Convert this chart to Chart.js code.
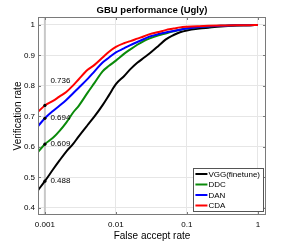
<!DOCTYPE html>
<html><head><meta charset="utf-8">
<script src="https://cdn.jsdelivr.net/npm/chart.js@4/dist/chart.umd.min.js"></script>
<style>html,body{margin:0;padding:0;background:#fff}#wrap{width:294px;height:242px}</style>
</head><body><div id="wrap"><canvas id="c" width="294" height="242"></canvas></div>
<script>
// ---- data ----
const far = [0.0008,0.001,0.0013,0.0016,0.002,0.0025,0.003,0.004,0.005,0.0065,0.008,0.01,0.013,0.016,0.02,0.025,0.03,0.04,0.05,0.065,0.08,0.1,0.15,0.2,0.3,0.5,0.7,1];
const vggFinetune = [0.458,0.488,0.526,0.555,0.585,0.610,0.635,0.672,0.700,0.737,0.770,0.806,0.832,0.855,0.876,0.893,0.907,0.932,0.952,0.967,0.976,0.982,0.988,0.991,0.995,0.998,0.999,1.0];
const ddc = [0.583,0.609,0.630,0.652,0.680,0.713,0.735,0.778,0.810,0.848,0.866,0.883,0.905,0.920,0.935,0.948,0.956,0.966,0.972,0.979,0.984,0.988,0.993,0.995,0.997,0.999,0.999,1.0];
const dan = [0.668,0.694,0.718,0.735,0.754,0.776,0.794,0.823,0.848,0.877,0.893,0.910,0.923,0.934,0.944,0.954,0.962,0.970,0.975,0.980,0.984,0.988,0.993,0.995,0.997,0.999,0.999,1.0];
const cda = [0.715,0.736,0.751,0.765,0.780,0.802,0.822,0.853,0.869,0.893,0.912,0.928,0.940,0.947,0.955,0.963,0.970,0.977,0.983,0.988,0.992,0.994,0.996,0.997,0.998,0.999,0.999,1.0];
const seriesNames = ['VGG(finetune)','DDC','DAN','CDA'];
const operatingFar = 0.001;
const operatingVr = [0.488, 0.609, 0.694, 0.736];
const operatingLabels = ['0.488','0.609','0.694','0.736'];
const xTickValues = [0.001, 0.01, 0.1, 1];
const xTickLabels = ['0.001','0.01','0.1','1'];
const yTickValues = [0.4, 0.5, 0.6, 0.7, 0.8, 0.9, 1];
const yTickLabels = ['0.4','0.5','0.6','0.7','0.8','0.9','1'];

// ---- styles ----
const colors = ['#000000','#0a8a0a','#0000ff','#ff0000'];
const labelNudgePx = [0, 0, 0, -25];
const X_MIN = 0.0008, X_MAX = 1.3, Y_MIN = 0.377, Y_MAX = 1.026;
const FONT = "'Liberation Sans', Arial, sans-serif";
const TXT = '#000000';

const toPts = arr => arr.map((v, i) => ({x: far[i], y: v}));
const seriesData = [vggFinetune, ddc, dan, cda];

const datasets = [];
// reference vertical line at operating point
datasets.push({
  type: 'line', label: '_ref', data: [{x: operatingFar, y: Y_MIN}, {x: operatingFar, y: Y_MAX}],
  borderColor: '#c8c8c8', borderWidth: 2, pointRadius: 0, order: 10
});
seriesData.forEach((arr, i) => {
  datasets.push({
    type: 'line', label: seriesNames[i], data: toPts(arr),
    borderColor: colors[i], backgroundColor: colors[i], borderWidth: 2,
    pointRadius: 0, tension: 0.25, cubicInterpolationMode: 'monotone', order: 5 - i
  });
});
datasets.push({
  type: 'scatter', label: '_pts', data: operatingVr.map(v => ({x: operatingFar, y: v})),
  backgroundColor: '#000', borderColor: '#000', pointRadius: 1.6, borderWidth: 0, order: 0
});

const boxPlugin = {
  id: 'boxPlugin',
  afterDatasetsDraw(chart) {
    const {ctx, chartArea: a, scales: {x, y}} = chart;
    ctx.save();
    // axes box
    ctx.strokeStyle = '#7a7a7a';
    ctx.lineWidth = 1;
    ctx.strokeRect(a.left + 0.5, a.top + 0.5, a.right - a.left - 1, a.bottom - a.top - 1);
    // inner ticks
    const tl = 3;
    ctx.beginPath();
    yTickValues.forEach(v => {
      const py = Math.round(y.getPixelForValue(v)) + 0.5;
      ctx.moveTo(a.left, py); ctx.lineTo(a.left + tl, py);
      ctx.moveTo(a.right, py); ctx.lineTo(a.right - tl, py);
    });
    xTickValues.forEach(v => {
      const px = Math.round(x.getPixelForValue(v)) + 0.5;
      ctx.moveTo(px, a.bottom); ctx.lineTo(px, a.bottom - tl);
      ctx.moveTo(px, a.top); ctx.lineTo(px, a.top + tl);
    });
    ctx.stroke();
    // operating point labels
    ctx.fillStyle = TXT;
    ctx.font = "8px " + FONT;
    ctx.textBaseline = 'middle';
    ctx.textAlign = 'left';
    operatingVr.forEach((v, i) => {
      const px = x.getPixelForValue(operatingFar) + 5.5;
      const py = y.getPixelForValue(v) + labelNudgePx[i];
      ctx.fillText(operatingLabels[i], px, py);
    });
    // legend
    ctx.font = "8px " + FONT;
    let maxW = 0;
    seriesNames.forEach(n => { maxW = Math.max(maxW, ctx.measureText(n).width); });
    const rowH = 10.5, lineLen = 12;
    const bw = 2 + lineLen + 1 + maxW + 3;
    const bh = seriesNames.length * rowH + 1;
    const bx = a.right - 3 - bw, by = a.bottom - 4 - bh;
    ctx.fillStyle = '#fff';
    ctx.fillRect(bx, by, bw, bh);
    ctx.strokeStyle = '#555';
    ctx.lineWidth = 1;
    ctx.strokeRect(Math.round(bx) + 0.5, Math.round(by) + 0.5, Math.round(bw), Math.round(bh));
    seriesNames.forEach((n, i) => {
      const cy = by + 6 + i * rowH;
      ctx.strokeStyle = colors[i];
      ctx.lineWidth = 2;
      ctx.beginPath();
      ctx.moveTo(bx + 2, cy); ctx.lineTo(bx + 2 + lineLen, cy);
      ctx.stroke();
      ctx.fillStyle = TXT;
      ctx.fillText(n, bx + 2 + lineLen + 1, cy + 0.5);
    });
    ctx.restore();
  }
};

new Chart(document.getElementById('c'), {
  data: {datasets},
  options: {
    responsive: false, devicePixelRatio: 1, animation: false,
    layout: {padding: {left: 0, right: 28, top: 0, bottom: 0}},
    plugins: {
      legend: {display: false}, tooltip: {enabled: false},
      title: {display: true, fullSize: false, text: 'GBU performance (Ugly)', color: TXT,
        font: {family: FONT, size: 9.5, weight: 'bold'}, padding: {top: 5, bottom: 0.6}}
    },
    scales: {
      x: {
        type: 'logarithmic', min: X_MIN, max: X_MAX,
        afterBuildTicks: s => { s.ticks = xTickValues.map(v => ({value: v})); },
        afterFit: s => { s.height = 27; },
        ticks: {autoSkip: false, maxRotation: 0, color: TXT, padding: 5,
          font: {family: FONT, size: 8},
          callback: (v) => { const i = xTickValues.indexOf(v); return i >= 0 ? xTickLabels[i] : ''; }},
        grid: {color: '#e6e6e6', lineWidth: 1, drawTicks: false},
        border: {display: false},
        title: {display: true, text: 'False accept rate', color: TXT,
          font: {family: FONT, size: 10}, padding: {top: 0, bottom: 0}}
      },
      y: {
        type: 'linear', min: Y_MIN, max: Y_MAX,
        afterBuildTicks: s => { s.ticks = yTickValues.map(v => ({value: v})); },
        afterFit: s => { s.width = 38; },
        ticks: {autoSkip: false, color: TXT, padding: 3,
          font: {family: FONT, size: 8},
          callback: (v) => { const i = yTickValues.findIndex(t => Math.abs(t - v) < 1e-9); return i >= 0 ? yTickLabels[i] : ''; }},
        grid: {color: '#e6e6e6', lineWidth: 1, drawTicks: false},
        border: {display: false},
        title: {display: true, text: 'Verification rate', color: TXT,
          font: {family: FONT, size: 10}, padding: {top: 12, bottom: 0}}
      }
    }
  },
  plugins: [boxPlugin]
});
</script>
</body></html>
